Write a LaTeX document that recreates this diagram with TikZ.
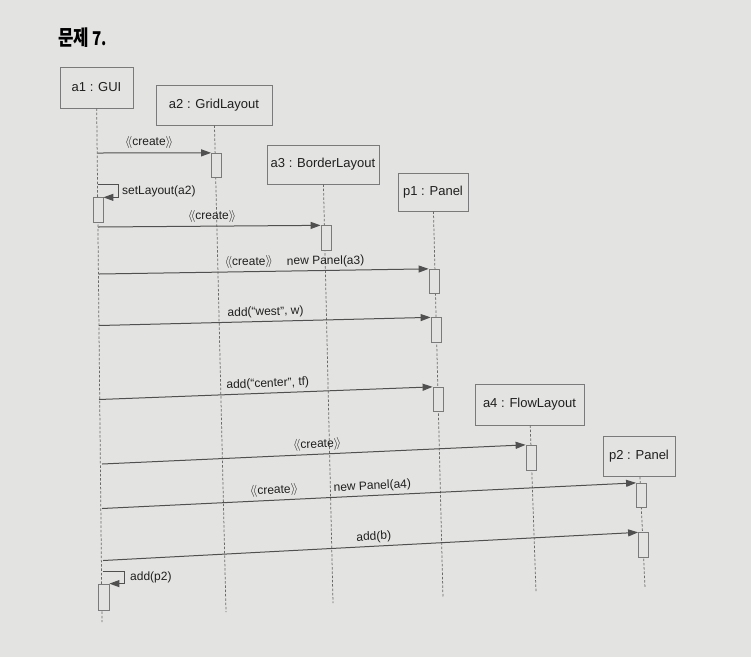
\documentclass[tikz,border=0pt]{standalone}
\usepackage{fontspec}
\setmainfont{Liberation Sans}
\newfontfamily\krfont{Noto Sans CJK KR}
\usetikzlibrary{arrows.meta,calc}

\definecolor{paper}{HTML}{E3E3E1}
\definecolor{ink}{HTML}{1F1F1F}
\definecolor{linegray}{HTML}{505050}
\definecolor{boxgray}{HTML}{7A7A7A}
\definecolor{dashgray}{HTML}{6A6A6A}

% stereotype brackets
\newcommand{\stereo}[1]{$\langle\!\langle$#1$\rangle\!\rangle$}

\begin{document}
\begin{tikzpicture}[x=1pt,y=-1pt,
  head/.style={draw=boxgray, line width=0.8pt, fill=paper, text=ink,
    font=\fontsize{13}{15}\selectfont, inner sep=0pt},
  life/.style={draw=dashgray, line width=0.75pt, dash pattern=on 2.5pt off 1.8pt},
  act/.style={draw=boxgray, line width=0.8pt, fill=paper,
    minimum width=10pt, minimum height=24.5pt, inner sep=0pt},
  msg/.style={draw=linegray, line width=1pt,
    -{Triangle[length=10pt,width=7pt]}},
  lbl/.style={text=ink, font=\fontsize{12}{14}\selectfont,
    inner sep=0.5pt, sloped, above=2.5pt},
  note/.style={text=ink, font=\fontsize{12}{14}\selectfont,
    inner sep=0pt, anchor=west},
  ]

% page
\fill[paper] (0,0) rectangle (751,657);
\useasboundingbox (0,0) rectangle (751,657);

% heading
\node[anchor=base west, inner sep=0pt, text=black, xscale=0.8] (title) at (58,45.5)
  {\krfont\bfseries\fontsize{21}{24}\selectfont 문제\hspace{4.5pt}\fontsize{19}{22}\selectfont 7.};

% object heads
\node[head, minimum width=73pt,  minimum height=41pt] (a1) at (96.5,87.5)  {a1 : GUI};
\node[head, minimum width=116pt, minimum height=40pt] (a2) at (214,105)    {a2 : GridLayout};
\node[head, minimum width=112pt, minimum height=39pt] (a3) at (323,164.5)  {a3 : BorderLayout};
\node[head, minimum width=70pt,  minimum height=38pt] (p1) at (433,192)    {p1 : Panel};
\node[head, minimum width=109pt, minimum height=41pt] (a4) at (529.5,404.5){a4 : FlowLayout};
\node[head, minimum width=72pt,  minimum height=40pt] (p2) at (639,456.5)  {p2 : Panel};

% lifelines
\coordinate (a1end) at (102,622);
\coordinate (a2end) at (226,612);
\coordinate (a3end) at (333,603);
\coordinate (p1end) at (443,598);
\coordinate (a4end) at (536,592);
\coordinate (p2end) at (645,588);
\draw[life] (a1) -- (a1end);
\draw[life] (a2) -- (a2end);
\draw[life] (a3) -- (a3end);
\draw[life] (p1) -- (p1end);
\draw[life] (a4) -- (a4end);
\draw[life] (p2) -- (p2end);

% activation bars
\node[act] (ga) at (216.5,165.5) {};
\node[act] (s1) at (98,210) {};
\node[act] (bl) at (326,238) {};
\node[act] (pa) at (434,281.5) {};
\node[act] (pb) at (436,330) {};
\node[act] (pc) at (438,399.5) {};
\node[act, minimum height=25.5pt] (fl) at (531,458) {};
\node[act] (qa) at (641.5,495.5) {};
\node[act] (qb) at (643.5,545) {};
\node[act, minimum width=11pt, minimum height=26pt] (s2) at (103.5,597) {};

% message origins on the a1 lifeline
\coordinate (m1s) at (97.5,153);
\coordinate (m2s) at (97.5,184);
\coordinate (m3s) at (98,227);
\coordinate (m4s) at (99,274);
\coordinate (m5s) at (99,325.5);
\coordinate (m6s) at (99,399.5);
\coordinate (m7s) at (102,464);
\coordinate (m8s) at (102,508.5);
\coordinate (m9s) at (103,560.5);
\coordinate (m10s) at (102.5,571.5);

% messages
\draw[msg] (m1s) -- (ga.north west)
  node[lbl, pos=0.454, above=1pt] {\stereo{create}};
\draw[msg] (m2s) -- ++(20.5,0) |- (s1.north east);
\node[note] (l2) at (122,191.5) {setLayout(a2)};
\draw[msg] (m3s) -- (bl.north west)
  node[lbl, pos=0.513] {\stereo{create}};
\draw[msg] (m4s) -- (pa.north west)
  node[lbl, pos=0.455] {\stereo{create}}
  node[lbl, pos=0.688] {new Panel(a3)};
\draw[msg] (m5s) -- (pb.north west)
  node[lbl, pos=0.503] {add(“west”, w)};
\draw[msg] (m6s) -- (pc.north west)
  node[lbl, pos=0.507] {add(“center”, tf)};
\draw[msg] (m7s) -- (fl.north west)
  node[lbl, pos=0.509] {\stereo{create}};
\draw[msg] (m8s) -- (qa.north west)
  node[lbl, pos=0.323] {\stereo{create}}
  node[lbl, pos=0.507] {new Panel(a4)};
\draw[msg] (m9s) -- (qb.north west)
  node[lbl, pos=0.507] {add(b)};
\draw[msg] (m10s) -- ++(21.5,0) |- (s2.north east);
\node[note] (l10) at (130,577) {add(p2)};

\end{tikzpicture}
\end{document}
